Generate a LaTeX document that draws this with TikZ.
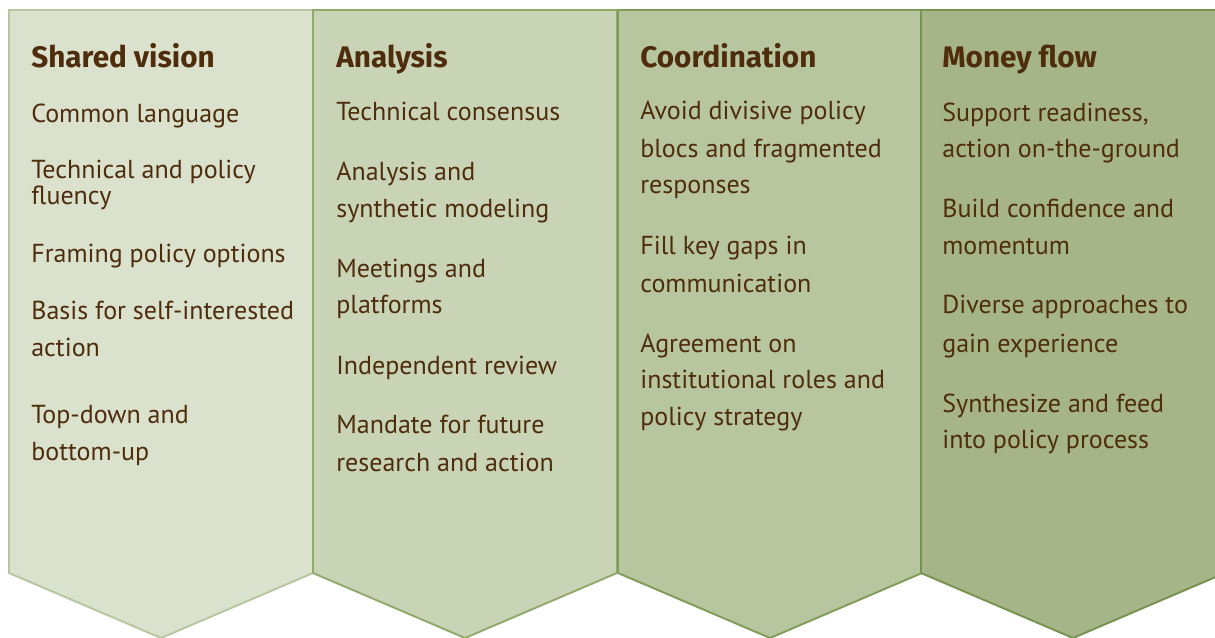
\documentclass[tikz,border=0pt]{standalone}
\usepackage{fontspec}
\setmainfont{PT Sans}
\newfontfamily\headfont{Fira Sans}
\definecolor{visionfill}{RGB}{218,226,205}
\definecolor{visionline}{RGB}{183,198,160}
\definecolor{analysisfill}{RGB}{200,212,181}
\definecolor{analysisline}{RGB}{145,170,108}
\definecolor{coordfill}{RGB}{184,198,160}
\definecolor{coordline}{RGB}{128,156,88}
\definecolor{moneyfill}{RGB}{166,181,135}
\definecolor{moneyline}{RGB}{119,147,80}
\definecolor{textbrown}{RGB}{78,44,12}
\tikzset{
  panel/.style={line width=1.1pt,line join=miter},
  head/.style={font=\headfont\bfseries\fontsize{16.9}{18}\selectfont,text=textbrown,
               anchor=base west,inner sep=0pt},
  item/.style={font=\fontsize{14.8}{18}\selectfont,text=textbrown,anchor=base west,inner sep=0pt},
}

\begin{document}
\begin{tikzpicture}[x=0.02cm,y=-0.02cm]
  \path[use as bounding box] (0,0) rectangle (1215,637);
  \clip (0,0) rectangle (1215,637);

  % four chevron panels, later ones overdraw the shared edge
  \foreach \xl/\fillc/\linec in {9/visionfill/visionline,313/analysisfill/analysisline,
                                 618/coordfill/coordline,921/moneyfill/moneyline}{
    \draw[panel,fill=\fillc,draw=\linec] (\xl,10) -- ++(304,0) -- ++(0,563)
      -- ++(-152,65) -- ++(-152,-65) -- cycle;
  }

  \node[head] (vision) at (31,67) {Shared vision};
  \node[head] (analysis) at (336,67) {Analysis};
  \node[head] (coord) at (640,67) {Coordination};
  \node[head] (money) at (942,67) {Money flow};

  \foreach \yy/\txt [count=\i] in {
    122/Common language, 178/Technical and policy, 204/fluency,
    262/Framing policy options, 319/Basis for self-interested, 356/action,
    423/Top-down and, 460/bottom-up
  }{
    \node[item] (vision-\i) at (31,\yy) {\txt};
  }

  \foreach \yy/\txt [count=\i] in {
    120/Technical consensus, 180/Analysis and, 217/synthetic modeling,
    277/Meetings and, 313/platforms, 374/Independent review,
    433/Mandate for future, 471/research and action
  }{
    \node[item] (analysis-\i) at (336,\yy) {\txt};
  }

  \foreach \yy/\txt [count=\i] in {
    119/Avoid divisive policy, 157/blocs and fragmented, 193/responses,
    254/Fill key gaps in, 292/communication,
    352/Agreement on, 388/institutional roles and, 425/policy strategy
  }{
    \node[item] (coord-\i) at (640,\yy) {\txt};
  }

  \foreach \yy/\txt [count=\i] in {
    121/{Support readiness,}, 157/action on-the-ground,
    217/Build confidence and, 254/momentum,
    313/Diverse approaches to, 352/gain experience,
    412/Synthesize and feed, 448/into policy process
  }{
    \node[item] (money-\i) at (942,\yy) {\txt};
  }
\end{tikzpicture}
\end{document}
